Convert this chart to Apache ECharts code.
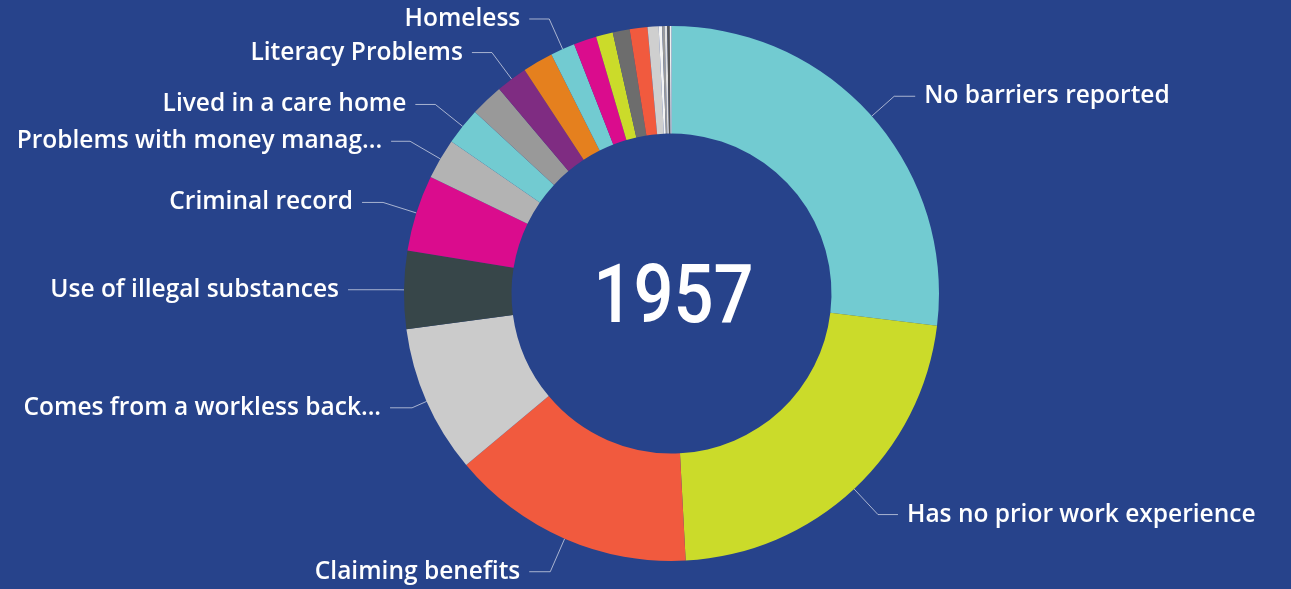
<!DOCTYPE html>
<html>
<head>
<meta charset="utf-8">
<script src="https://cdn.jsdelivr.net/npm/echarts@6/dist/echarts.min.js"></script>
<style>
html,body{margin:0;padding:0;background:#27438B;}
#chart{width:1291px;height:589px;}
</style>
</head>
<body>
<div id="chart"></div>
<script>
// ---- data ----
const categories = [
  'No barriers reported',
  'Has no prior work experience',
  'Claiming benefits',
  'Comes from a workless back...',
  'Use of illegal substances',
  'Criminal record',
  'Problems with money manag...',
  'Lived in a care home',
  'Other barrier 1',
  'Literacy Problems',
  'Other barrier 2',
  'Homeless',
  'Other barrier 3',
  'Other barrier 4',
  'Other barrier 5',
  'Other barrier 6',
  'Other barrier 7',
  'Other barrier 8',
  'Other barrier 9',
  'Other barrier 10',
  'Other barrier 11',
  'Other barrier 12'
];
const values = [527, 435, 289, 175, 92, 90, 48, 44, 39, 37, 36, 29, 27, 20, 20, 21, 13, 4, 3, 3, 3, 2];
const labelledCategories = [
  'No barriers reported', 'Has no prior work experience', 'Claiming benefits',
  'Comes from a workless back...', 'Use of illegal substances', 'Criminal record',
  'Problems with money manag...', 'Lived in a care home', 'Literacy Problems', 'Homeless'
];
const centerTotal = '1957';

// ---- styles ----
const palette = [
  '#72CBD1', '#CBDB2A', '#F15A3E', '#CBCBCB', '#374649', '#DA0C8D',
  '#B3B3B3', '#72CBD1', '#999999', '#7F2C82', '#E5801E', '#72CBD1',
  '#DA0C8D', '#CBDB2A', '#6D6D6D', '#F15A3E', '#CFCFCF', '#F4F4F4',
  '#9A9A9A', '#E2E2E2', '#555555', '#EEEEEE'
];
const lineStyleByName = {
  'No barriers reported': {length: 30, length2: 21},
  'Has no prior work experience': {length: 35, length2: 20},
  'Claiming benefits': {length: 36, length2: 21},
  'Comes from a workless back...': {length: 16, length2: 22},
  'Use of illegal substances': {length: 8, length2: 48},
  'Criminal record': {length: 35, length2: 21},
  'Problems with money manag...': {length: 35, length2: 19},
  'Lived in a care home': {length: 35, length2: 20},
  'Literacy Problems': {length: 33, length2: 20},
  'Homeless': {length: 33, length2: 20}
};

const chart = echarts.init(document.getElementById('chart'), null, {renderer: 'canvas'});

const data = categories.map((name, i) => {
  const shown = labelledCategories.indexOf(name) >= 0;
  const ls = lineStyleByName[name] || {length: 20, length2: 20};
  return {
    name: name,
    value: values[i],
    itemStyle: {color: palette[i]},
    label: {show: shown},
    labelLine: {show: shown, length: ls.length, length2: ls.length2}
  };
});

chart.setOption({
  backgroundColor: '#27438B',
  animation: false,
  graphic: [{
    type: 'text',
    x: 673.5,
    y: 301,
    scaleX: 0.86,
    style: {
      text: centerTotal,
      fill: '#FFFFFF',
      fontFamily: 'Roboto',
      fontWeight: 500,
      fontSize: 82,
      align: 'center',
      verticalAlign: 'middle'
    }
  }],
  series: [{
    type: 'pie',
    center: [671.5, 293.5],
    radius: [160, 267.5],
    startAngle: 90,
    clockwise: true,
    silent: true,
    avoidLabelOverlap: true,
    emphasis: {disabled: true},
    label: {
      color: '#FFFFFF',
      fontFamily: 'Open Sans',
      fontWeight: 600,
      fontSize: 24.5,
      distanceToLabelLine: 9
    },
    labelLine: {
      lineStyle: {color: 'rgba(255,255,255,0.6)', width: 1}
    },
    data: data
  }]
});
</script>
</body>
</html>
